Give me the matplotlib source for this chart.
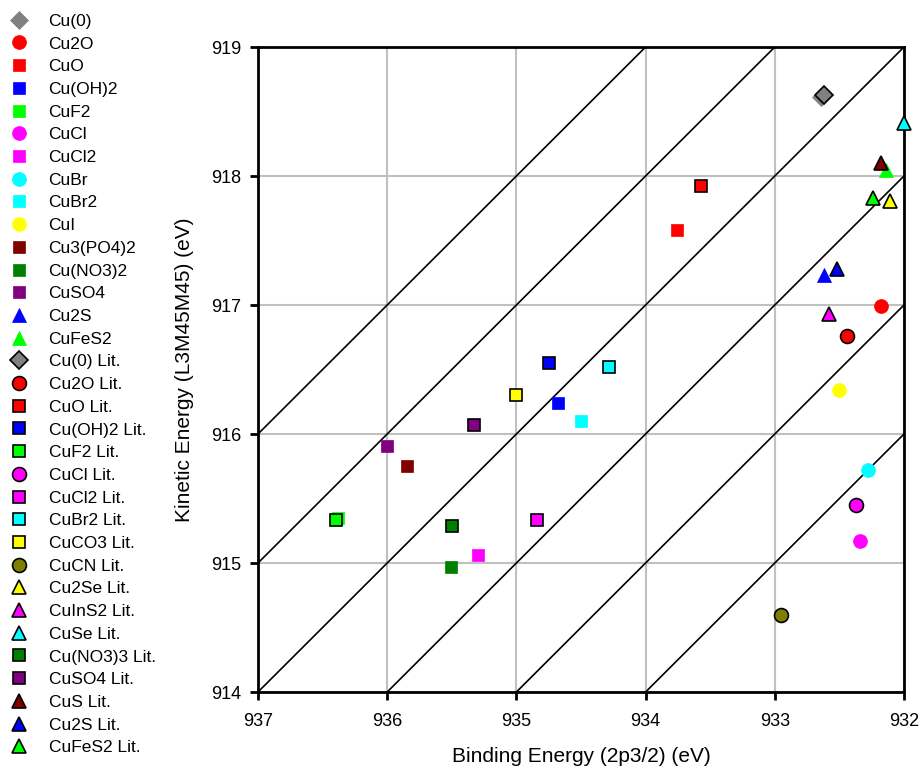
import matplotlib
matplotlib.use("Agg")
import matplotlib.pyplot as plt

plt.rcParams['font.family'] = ['Liberation Sans', 'DejaVu Sans']

# ---- data ----
meas_labels = ["Cu(0)", "Cu2O", "CuO", "Cu(OH)2", "CuF2", "CuCl", "CuCl2", "CuBr",
               "CuBr2", "CuI", "Cu3(PO4)2", "Cu(NO3)2", "CuSO4", "Cu2S", "CuFeS2"]
meas_be = [932.64, 932.18, 933.76, 934.68, 936.38, 932.34, 935.30, 932.28,
           934.50, 932.50, 935.85, 935.51, 936.00, 932.62, 932.14]
meas_ke = [918.61, 916.99, 917.58, 916.24, 915.35, 915.17, 915.06, 915.72,
           916.10, 916.34, 915.75, 914.97, 915.91, 917.23, 918.05]

lit_labels = ["Cu(0) Lit.", "Cu2O Lit.", "CuO Lit.", "Cu(OH)2 Lit.", "CuF2 Lit.",
              "CuCl Lit.", "CuCl2 Lit.", "CuBr2 Lit.", "CuCO3 Lit.", "CuCN Lit.",
              "Cu2Se Lit.", "CuInS2 Lit.", "CuSe Lit.", "Cu(NO3)3 Lit.", "CuSO4 Lit.",
              "CuS Lit.", "Cu2S Lit.", "CuFeS2 Lit."]
lit_be = [932.62, 932.44, 933.57, 934.75, 936.40, 932.37, 934.84, 934.28, 935.00,
          932.95, 932.11, 932.58, 932.00, 935.50, 935.33, 932.18, 932.52, 932.24]
lit_ke = [918.63, 916.76, 917.92, 916.55, 915.33, 915.45, 915.33, 916.52, 916.30,
          914.60, 917.81, 916.93, 918.41, 915.29, 916.07, 918.10, 917.28, 917.83]

# Auger parameter lines (BE + KE = const)
auger_sums = [1848, 1849, 1850, 1851, 1852, 1853]

x_ticks = [937, 936, 935, 934, 933, 932]
y_ticks = [914, 915, 916, 917, 918, 919]

# ---- styles ----
GRAY, RED, BLUE, LIME = "#808080", "#FF0000", "#0000FF", "#00FF00"
MAG, CYAN, YEL = "#FF00FF", "#00FFFF", "#FFFF00"
DRED, DGRN, PURP, OLIVE = "#800000", "#008000", "#800080", "#808000"

meas_style = [("D", GRAY), ("o", RED), ("s", RED), ("s", BLUE), ("s", LIME),
              ("o", MAG), ("s", MAG), ("o", CYAN), ("s", CYAN), ("o", YEL),
              ("s", DRED), ("s", DGRN), ("s", PURP), ("^", BLUE), ("^", LIME)]
lit_style = [("D", GRAY), ("o", RED), ("s", RED), ("s", BLUE), ("s", LIME),
             ("o", MAG), ("s", MAG), ("s", CYAN), ("s", YEL), ("o", OLIVE),
             ("^", YEL), ("^", MAG), ("^", CYAN), ("s", DGRN), ("s", PURP),
             ("^", DRED), ("^", BLUE), ("^", LIME)]

msize = {"D": 9.5, "o": 10, "s": 8.6, "^": 9.5}

fig = plt.figure(figsize=(9.2, 7.69), dpi=100)
ax = fig.add_axes([258 / 920, 77 / 769, 646 / 920, 645 / 769])

ax.set_xlim(937, 932)
ax.set_ylim(914, 919)
ax.set_xticks(x_ticks)
ax.set_yticks(y_ticks)
ax.grid(True, color="#c0c0c0", lw=1.5, zorder=0)
ax.set_axisbelow(True)

for s in auger_sums:
    ax.plot([937, 932], [s - 937, s - 932], color="black", lw=1.2, zorder=1)

handles = []
for lab, x, y, (m, c) in zip(meas_labels, meas_be, meas_ke, meas_style):
    h, = ax.plot([x], [y], linestyle="none", marker=m, ms=msize[m],
                 markerfacecolor=c, markeredgecolor=c, markeredgewidth=0.5,
                 label=lab, zorder=3, clip_on=False)
    handles.append(h)
for lab, x, y, (m, c) in zip(lit_labels, lit_be, lit_ke, lit_style):
    h, = ax.plot([x], [y], linestyle="none", marker=m, ms=msize[m],
                 markerfacecolor=c, markeredgecolor="black", markeredgewidth=1.2,
                 label=lab, zorder=4, clip_on=False)
    handles.append(h)

for sp in ax.spines.values():
    sp.set_linewidth(2)
    sp.set_color("black")
ax.tick_params(direction="out", length=6, width=2, labelsize=13, pad=6)
ax.tick_params(axis="x", pad=9)

ax.set_xlabel("Binding Energy (2p3/2) (eV)", fontsize=15, labelpad=12)
ax.set_ylabel("Kinetic Energy (L3M45M45) (eV)", fontsize=15, labelpad=12)

fig.legend(handles=handles, loc="upper left", bbox_to_anchor=(0.0, 1.0 - 5 / 769),
           frameon=False, fontsize=12.5, handlelength=1.2, handletextpad=1.1,
           labelspacing=0.435, borderpad=0.2, borderaxespad=0.3)

fig.savefig("out.png", dpi=100)
